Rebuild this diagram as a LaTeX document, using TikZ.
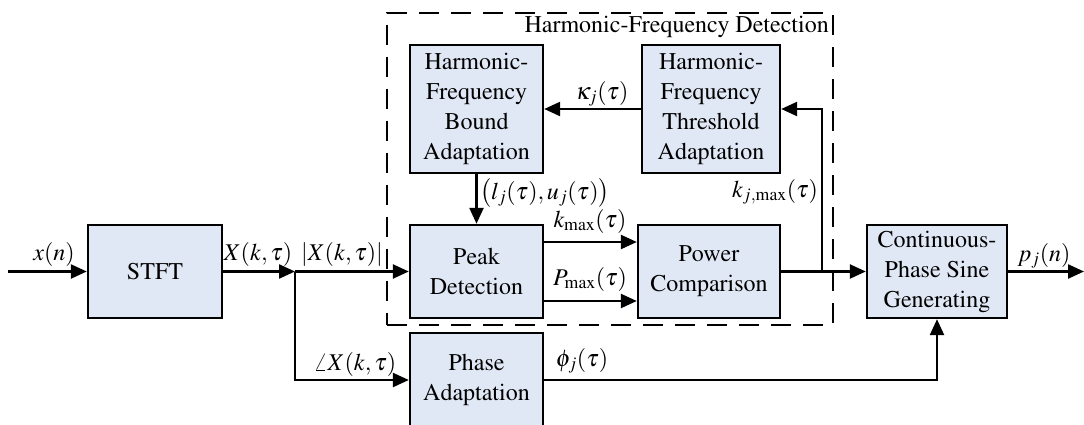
\documentclass[tikz,border=0pt]{standalone}
\usepackage[T1]{fontenc}
\usepackage{mathptmx}
\usetikzlibrary{arrows.meta}
\definecolor{boxfill}{RGB}{225,232,245}

\begin{document}
\begin{tikzpicture}[x=1pt, y=-1pt,
    blk/.style={draw, line width=2.4pt, fill=boxfill, align=center, inner sep=0pt,
        font=\fontsize{24}{30}\selectfont},
    wire/.style={line width=2.4pt},
    arr/.style={wire, -{Triangle[length=16pt,width=14pt]}},
    lbl/.style={font=\fontsize{24}{30}\selectfont, inner sep=0pt}]
    \useasboundingbox (0,0) rectangle (1084,425);

    % ===== DETECTION FRAME =====
    \node[draw, line width=2.4pt, dash pattern=on 20pt off 12pt,
        minimum width=446pt, minimum height=312pt] (hfd) at (610,169) {};
    \node[lbl, anchor=east] (hfdtitle) at (829,27) {Harmonic-Frequency Detection};

    % ===== BLOCKS =====
    \node[blk, minimum width=134pt, minimum height=93pt] (stft) at (155,271.5) {STFT};
    \node[blk, minimum width=133pt, minimum height=93pt] (peak) at (476.5,271.5) {Peak\\Detection};
    \node[blk, minimum width=142pt, minimum height=93pt] (power) at (709,271.5) {Power\\Comparison};
    \node[blk, minimum width=133pt, minimum height=94pt] (phase) at (476.5,380) {Phase\\Adaptation};
    \node[blk, minimum width=133pt, minimum height=128pt] (bound) at (476.5,109)
        {Harmonic-\\Frequency\\Bound\\Adaptation};
    \node[blk, minimum width=138pt, minimum height=128pt] (thresh) at (711,109)
        {Harmonic-\\Frequency\\Threshold\\Adaptation};
    \node[blk, minimum width=140pt, minimum height=93pt] (sine) at (937,271.5)
        {Continuous-\\Phase Sine\\Generating};

    % ===== HELPER POINTS =====
    \coordinate (in) at (8,271.5);
    \coordinate (out) at (1084,271.5);
    \coordinate (split) at (295,271.5);
    \coordinate (tap) at (822,271.5);

    % ===== CONNECTORS =====
    \draw[arr] (in) -- (stft.west);
    \draw[arr] (stft.east) -- (split);
    \draw[arr] (split) -- (peak.west);
    \draw[arr] (split) |- (phase.west);
    \draw[arr] (bound.south) -- (peak.north);
    \draw[arr] (thresh.west) -- (bound.east);
    \draw[arr] ([yshift=29.5pt]peak.east) -- ([yshift=29.5pt]power.west);
    \draw[arr] ([yshift=-29.5pt]peak.east) -- ([yshift=-29.5pt]power.west);
    \draw[arr] (power.east) -- (sine.west);
    \draw[arr] (tap) |- (thresh.east);
    \draw[arr] (phase.east) -| (sine.south);
    \draw[arr] (sine.east) -- (out);

    % ===== SIGNAL LABELS =====
    \node[lbl] (lxn) at (54,254) {$x(n)$};
    \node[lbl] (lX) at (258,254) {$X(k,\tau)$};
    \node[lbl] (labsX) at (342,254) {$|X(k,\tau)|$};
    \node[lbl] (langX) at (355,364) {$\angle X(k,\tau)$};
    \node[lbl, anchor=west] (llu) at (480,193) {$\big(l_j(\tau),u_j(\tau)\big)$};
    \node[lbl] (lkappa) at (602,94) {$\kappa_j(\tau)$};
    \node[lbl] (lkjmax) at (775,192) {$k_{j,\max}(\tau)$};
    \node[lbl] (lkmax) at (590,221) {$k_{\max}(\tau)$};
    \node[lbl] (lPmax) at (590,279) {$P_{\max}(\tau)$};
    \node[lbl] (lphi) at (582,361) {$\phi_j(\tau)$};
    \node[lbl] (lpj) at (1044,256) {$p_j(n)$};

\end{tikzpicture}
\end{document}
